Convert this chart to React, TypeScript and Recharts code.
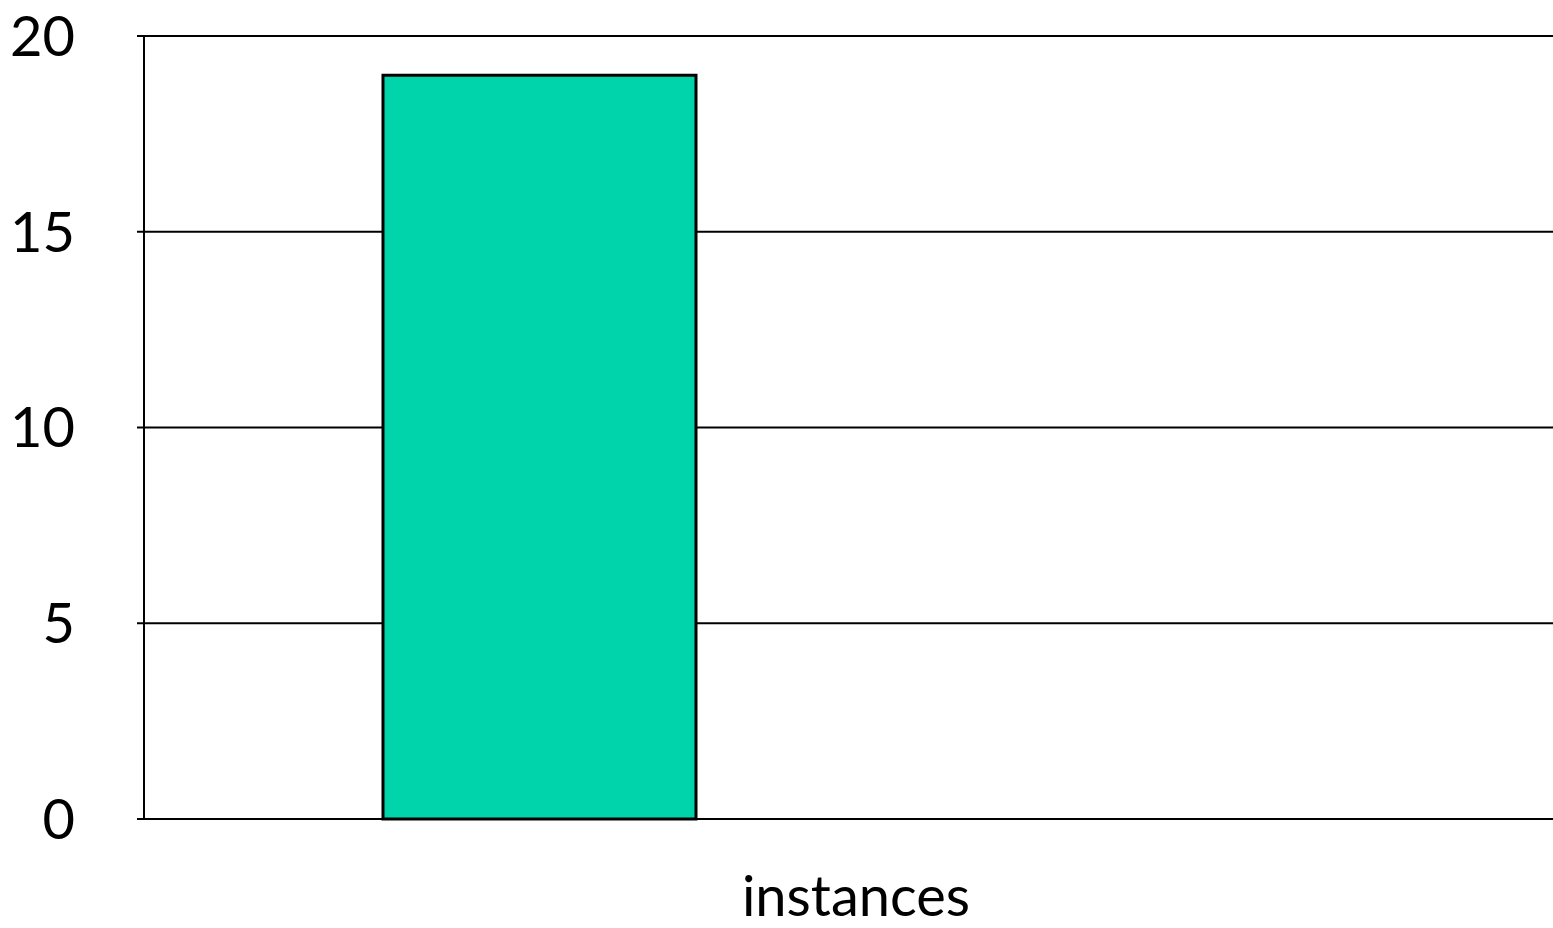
import { BarChart, Bar, XAxis, YAxis, CartesianGrid } from 'recharts';

// one category, three series (only the first has a value)
const categories = ['instances'];
const seriesA = [19];
const seriesB: (number | null)[] = [null];
const seriesC: (number | null)[] = [null];
const yTicks = [0, 5, 10, 15, 20];

const data = categories.map((name, i) => ({
  name,
  a: seriesA[i],
  b: seriesB[i],
  c: seriesC[i],
}));

const FONT = 'Lato, "Open Sans", sans-serif';

const App = () => {
  return (
    <div style={{ position: 'absolute', left: 0, top: 0, width: 1553, height: 928, overflow: 'hidden', background: '#fff' }}>
      <BarChart
        width={1560}
        height={928}
        data={data}
        margin={{ top: 36, right: 0, bottom: 0, left: 0 }}
        barGap={0}
        barSize={313}
      >
        <CartesianGrid horizontal vertical={false} stroke="#000" strokeWidth={2} strokeDasharray="" />
        <XAxis
          dataKey="name"
          height={109}
          axisLine={{ stroke: '#000', strokeWidth: 2 }}
          tickLine={false}
          tickSize={0}
          tickMargin={57}
          tick={{ fill: '#000', fontSize: 56, fontFamily: FONT, dx: 4 }}
        />
        <YAxis
          width={144}
          domain={[0, 20]}
          ticks={yTicks}
          interval={0}
          axisLine={{ stroke: '#000', strokeWidth: 2 }}
          tickLine={{ stroke: '#000', strokeWidth: 2 }}
          tickSize={7}
          tickMargin={62}
          tick={{ fill: '#000', fontSize: 56, fontFamily: FONT }}
        />
        <Bar dataKey="a" fill="#00D4AB" stroke="#000" strokeWidth={3} isAnimationActive={false} />
        <Bar dataKey="b" fill="#9999FF" stroke="#000" strokeWidth={3} isAnimationActive={false} />
        <Bar dataKey="c" fill="#FFCC00" stroke="#000" strokeWidth={3} isAnimationActive={false} />
      </BarChart>
    </div>
  );
};

export default App;
